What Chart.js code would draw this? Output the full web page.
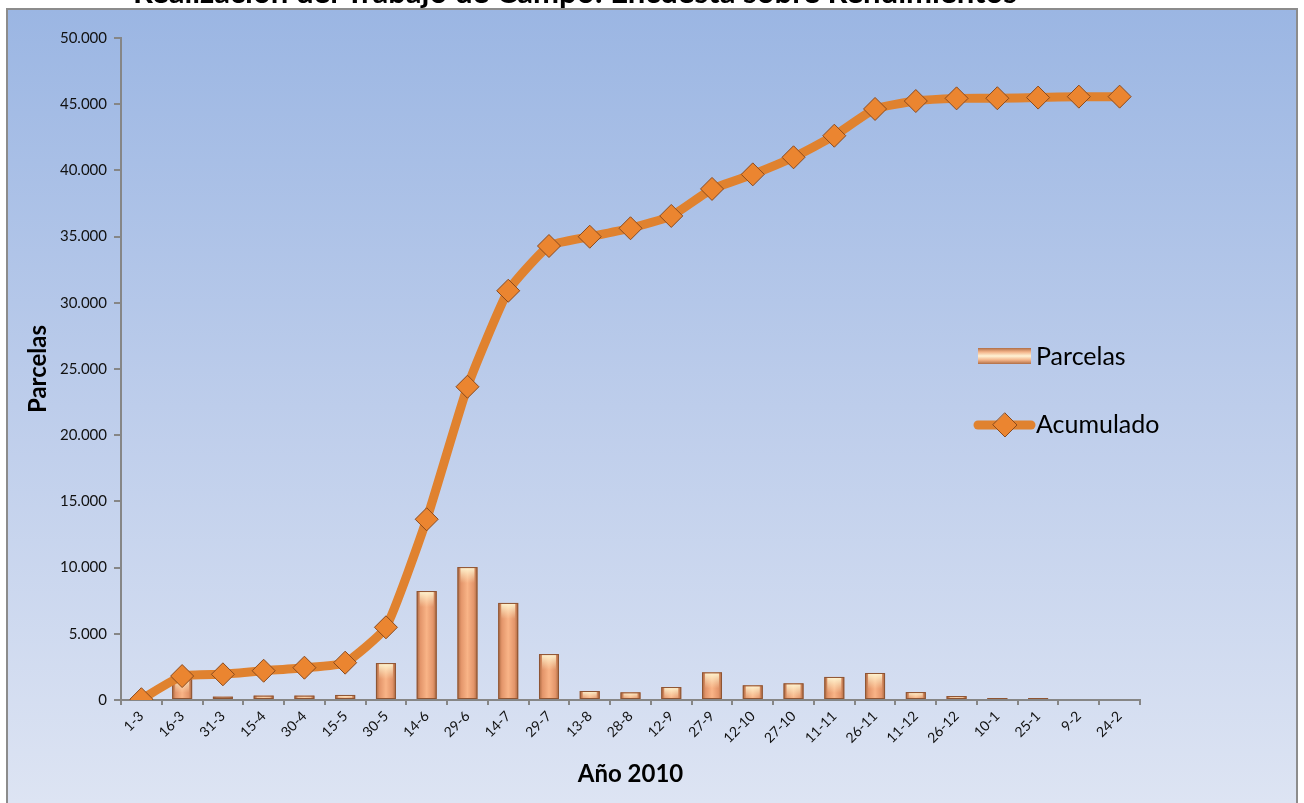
<!DOCTYPE html>
<html><head><meta charset="utf-8">
<script src="https://cdn.jsdelivr.net/npm/chart.js@4.4.1/dist/chart.umd.min.js"></script>
<style>html,body{margin:0;padding:0;background:#fff;overflow:hidden}canvas{display:block}</style>
</head><body><canvas id="c" width="1304" height="803"></canvas>
<script>
const categories = ['1-3','16-3','31-3','15-4','30-4','15-5','30-5','14-6','29-6','14-7','29-7','13-8','28-8','12-9','27-9','12-10','27-10','11-11','26-11','11-12','26-12','10-1','25-1','9-2','24-2'];
const parcelas = [60, 1750, 250, 330, 330, 380, 2790, 8230, 10040, 7330, 3470, 680, 580, 980, 2090, 1110, 1260, 1740, 2040, 600, 300, 150, 150, 0, 0];
const acumulado = [60, 1810, 1940, 2210, 2440, 2820, 5490, 13650, 23660, 30910, 34290, 34990, 35630, 36560, 38600, 39700, 40990, 42620, 44640, 45240, 45440, 45450, 45500, 45570, 45570];
const seriesNames = ['Parcelas', 'Acumulado'];
const chartTitle = 'Realización del Trabajo de Campo: Encuesta sobre Rendimientos';
const yAxisTitle = 'Parcelas';
const xAxisTitle = 'Año 2010';
const yMax = 50000, yStep = 5000;

const FONT = 'Lato, "Open Sans", sans-serif';
const fmt = v => String(v).replace(/\B(?=(\d{3})+(?!\d))/g, '.');

const framePlugin = {
  id: 'frame',
  beforeDraw(chart) {
    const ctx = chart.ctx;
    ctx.save();
    ctx.fillStyle = '#ffffff';
    ctx.fillRect(0, 0, chart.width, chart.height);
    const g = ctx.createLinearGradient(0, 9, 0, 803);
    g.addColorStop(0, '#9BB6E3');
    g.addColorStop(0.5, '#BDCDEB');
    g.addColorStop(1, '#DDE4F3');
    ctx.fillStyle = g;
    ctx.fillRect(7, 9, 1290, 800);
    ctx.strokeStyle = '#8C8C8C';
    ctx.lineWidth = 2;
    ctx.strokeRect(7, 9, 1290, 800);
    ctx.fillStyle = '#000';
    ctx.font = 'bold 24px ' + FONT;
    const w = ctx.measureText(chartTitle).width;
    const fs = 24 * 883 / w;
    ctx.font = 'bold ' + fs.toFixed(1) + 'px ' + FONT;
    ctx.textAlign = 'center';
    ctx.textBaseline = 'alphabetic';
    ctx.save();
    ctx.beginPath(); ctx.rect(0, 0, chart.width, 8); ctx.clip();
    ctx.fillText(chartTitle, 575, 3);
    ctx.restore();
    ctx.restore();
  },
  afterDatasetDraw(chart, args) {
    if (args.index !== 0) return;
    const ctx = chart.ctx;
    const meta = chart.getDatasetMeta(0);
    ctx.save();
    meta.data.forEach(el => {
      const h = el.base - el.y;
      if (h <= 0.5) return;
      const l = el.x - el.width / 2, r = el.x + el.width / 2;
      const hg = ctx.createLinearGradient(l, 0, r, 0);
      hg.addColorStop(0, '#A9673F');
      hg.addColorStop(0.18, '#E3956A');
      hg.addColorStop(0.5, '#F9B487');
      hg.addColorStop(0.82, '#E3956A');
      hg.addColorStop(1, '#A9673F');
      ctx.fillStyle = hg;
      ctx.fillRect(l, el.y, el.width, h);
      const vg = ctx.createLinearGradient(0, el.y, 0, el.y + Math.min(16, h));
      vg.addColorStop(0, 'rgba(255,250,215,0.95)');
      vg.addColorStop(1, 'rgba(255,240,200,0)');
      ctx.fillStyle = vg;
      ctx.fillRect(l + 3, el.y + 1, el.width - 6, Math.min(16, h) - 1);
      ctx.strokeStyle = '#8E5534';
      ctx.lineWidth = 1;
      ctx.strokeRect(l + 0.5, el.y + 0.5, el.width - 1, h - 1);
    });
    ctx.restore();
  },
  afterDraw(chart) {
    const ctx = chart.ctx;
    ctx.save();
    const vg = ctx.createLinearGradient(0, 348, 0, 364);
    vg.addColorStop(0, '#B06E46');
    vg.addColorStop(0.25, '#F3B48A');
    vg.addColorStop(0.5, '#FFF3D6');
    vg.addColorStop(0.75, '#F3B48A');
    vg.addColorStop(1, '#B06E46');
    ctx.fillStyle = vg;
    ctx.fillRect(978, 348, 53, 16);
    ctx.fillStyle = '#000';
    ctx.font = '25px ' + FONT;
    ctx.textAlign = 'left';
    ctx.textBaseline = 'middle';
    ctx.fillText(seriesNames[0], 1036, 357);
    ctx.strokeStyle = '#E0822F';
    ctx.lineWidth = 9;
    ctx.lineCap = 'round';
    ctx.beginPath(); ctx.moveTo(978, 425); ctx.lineTo(1031, 425); ctx.stroke();
    ctx.beginPath();
    ctx.moveTo(1005, 413); ctx.lineTo(1017, 425); ctx.lineTo(1005, 437); ctx.lineTo(993, 425); ctx.closePath();
    ctx.fillStyle = '#EB8530'; ctx.fill();
    ctx.strokeStyle = '#8A4A1E'; ctx.lineWidth = 1; ctx.stroke();
    ctx.fillStyle = '#000';
    ctx.fillText(seriesNames[1], 1036, 425);
    ctx.restore();
  }
};

new Chart(document.getElementById('c'), {
  type: 'bar',
  data: {
    labels: categories,
    datasets: [
      { type: 'bar', label: seriesNames[0], data: parcelas, backgroundColor: 'rgba(0,0,0,0)', borderWidth: 0,
        categoryPercentage: 1, barPercentage: 0.49, order: 2 },
      { type: 'line', label: seriesNames[1], data: acumulado, borderColor: '#E0822F', borderWidth: 9,
        borderJoinStyle: 'round', borderCapStyle: 'round', tension: 0.15,
        pointStyle: 'rectRot', pointRadius: 11.5, pointBackgroundColor: '#EB8530',
        pointBorderColor: '#8A4A1E', pointBorderWidth: 1, order: 1 }
    ]
  },
  options: {
    responsive: false, animation: false, devicePixelRatio: 1,
    layout: { padding: { top: 38, right: 164, left: 0, bottom: 0 } },
    plugins: { legend: { display: false }, title: { display: false }, tooltip: { enabled: false } },
    scales: {
      x: {
        offset: true,
        grid: { display: true, offset: true, drawOnChartArea: false, drawTicks: true, tickLength: 5, color: '#868686', lineWidth: 2 },
        border: { display: true, color: '#868686', width: 2 },
        ticks: { color: '#111', font: { family: FONT, size: 14 }, minRotation: 45, maxRotation: 45, padding: 3, autoSkip: false },
        title: { display: true, text: xAxisTitle, color: '#000', font: { family: FONT, size: 24, weight: 'bold' }, padding: { top: 0, bottom: 14 } },
        afterFit(s) { s.height = 103; }
      },
      y: {
        min: 0, max: yMax,
        grid: { display: true, drawOnChartArea: false, drawTicks: true, tickLength: 7, color: '#868686', lineWidth: 2 },
        border: { display: true, color: '#868686', width: 2 },
        ticks: { stepSize: yStep, color: '#111', font: { family: FONT, size: 15 }, padding: 7, callback: v => fmt(v) },
        title: { display: true, text: yAxisTitle, color: '#000', font: { family: FONT, size: 24, weight: 'bold' }, padding: { top: 24, bottom: 0 } },
        afterFit(s) { s.width = 121; }
      }
    }
  },
  plugins: [framePlugin]
});
</script>
</body></html>
